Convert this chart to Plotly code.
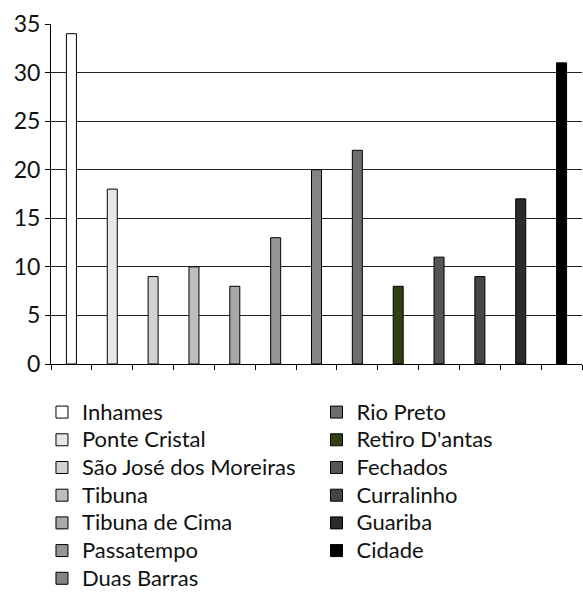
import plotly.graph_objects as go

names = ["Inhames", "Ponte Cristal", "São José dos Moreiras", "Tibuna", "Tibuna de Cima",
         "Passatempo", "Duas Barras", "Rio Preto", "Retiro D'antas", "Fechados",
         "Curralinho", "Guariba", "Cidade"]
values = [34, 18, 9, 10, 8, 13, 20, 22, 8, 11, 9, 17, 31]
colors = ["#ffffff", "#e6e6e6", "#d2d2d2", "#bdbdbd", "#a9a9a9", "#959595", "#848484",
          "#6e6e6e", "#2e4014", "#555555", "#454545", "#2b2b2b", "#000000"]
y_ticks = [0, 5, 10, 15, 20, 25, 30, 35]

FONT = "Lato"
fig = go.Figure()
for i, (n, v, c) in enumerate(zip(names, values, colors)):
    fig.add_trace(go.Bar(
        x=[n], y=[v], name='<span style="font-size:22px">' + n + '</span>', width=0.245,
        marker=dict(color=c, line=dict(color="#000000", width=1)),
        legend="legend" if i < 7 else "legend2",
    ))

fig.update_layout(
    width=583, height=592,
    margin=dict(l=51, r=1, t=24, b=228, autoexpand=False),
    paper_bgcolor="white", plot_bgcolor="white",
    barmode="overlay",
    font=dict(family=FONT, size=19, color="#111111"),
    xaxis=dict(type="category", categoryorder="array", categoryarray=names,
               range=[-0.5, 12.5], showticklabels=False, ticks="outside",
               tickson="boundaries", ticklen=5, tickcolor="#000", showline=True,
               linecolor="#000", linewidth=1, showgrid=False, zeroline=False),
    yaxis=dict(range=[0, 35], tickvals=y_ticks, ticks="outside", ticklen=5,
               tickcolor="#000", showline=True, linecolor="#000", linewidth=1,
               showgrid=True, gridcolor="#222", gridwidth=1, zeroline=False,
               tickfont=dict(size=23, family=FONT, color="#111")),
    legend=dict(x=-0.017, y=-0.086, xanchor="left", yanchor="top",
                bgcolor="rgba(0,0,0,0)", font=dict(size=19, family=FONT),
                tracegroupgap=0),
    legend2=dict(x=0.5, y=-0.086, xanchor="left", yanchor="top",
                 bgcolor="rgba(0,0,0,0)", font=dict(size=19, family=FONT),
                 tracegroupgap=0),
    showlegend=True,
)

fig.write_html("out.html")
